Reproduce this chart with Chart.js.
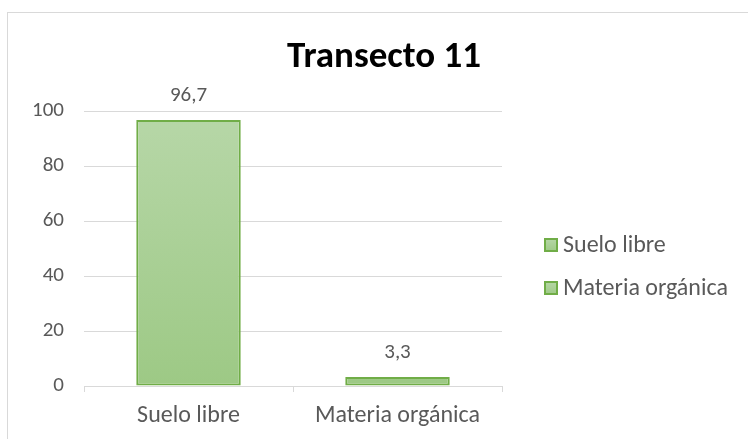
<!DOCTYPE html>
<html>
<head>
<meta charset="utf-8">
<script src="https://cdn.jsdelivr.net/npm/chart.js@4/dist/chart.umd.min.js"></script>
<style>
  html, body { margin: 0; padding: 0; overflow: hidden; background: #fff; }
  #frame {
    position: absolute; left: 7px; top: 12px;
    width: 752px; height: 440px;
    border: 1px solid #d9d9d9;
    background: #fff;
  }
  #chart { display: block; }
</style>
</head>
<body>
<div id="frame"><canvas id="chart" width="752" height="440"></canvas></div>
<script>
'use strict';

const chartTitle = 'Transecto 11';
const categories = ['Suelo libre', 'Materia orgánica'];
const percentValues = [96.7, 3.3];
const yMax = 100;
const yStep = 20;

const fontFamily = 'Carlito, Lato, sans-serif';
const textGray = '#595959';
const gridGray = '#d9d9d9';
const barBorder = '#70ad47';

let canvasElem = document.getElementById('chart');

function barGradient(ctx, top, bottom) {
  const g = ctx.createLinearGradient(0, top, 0, bottom);
  g.addColorStop(0, '#b7d7a8');
  g.addColorStop(1, '#9dc985');
  return g;
}

function formatValue(v) {
  return String(v).replace('.', ',');
}

// title centred on the whole frame, not only on the plot
const frameTitle = {
  id: 'frameTitle',
  afterDraw(chart) {
    const ctx = chart.ctx;
    ctx.save();
    ctx.font = 'bold 37px ' + fontFamily;
    ctx.fillStyle = '#000';
    ctx.textAlign = 'center';
    ctx.textBaseline = 'alphabetic';
    ctx.fillText(chartTitle, chart.width / 2, 54);
    ctx.restore();
  }
};

// value labels above each bar
const valueLabels = {
  id: 'valueLabels',
  afterDatasetsDraw(chart) {
    const ctx = chart.ctx;
    const meta = chart.getDatasetMeta(0);
    ctx.save();
    ctx.font = '21px ' + fontFamily;
    ctx.fillStyle = textGray;
    ctx.textAlign = 'center';
    ctx.textBaseline = 'middle';
    meta.data.forEach((bar, i) => {
      ctx.fillText(formatValue(chart.data.datasets[0].data[i]), bar.x, bar.y - 24);
    });
    ctx.restore();
  }
};

// legend on the right, one entry per category like the original
const sideLegend = {
  id: 'sideLegend',
  afterDraw(chart) {
    const ctx = chart.ctx;
    const area = chart.chartArea;
    const x = area.right + 42;
    ctx.save();
    ctx.font = '24px ' + fontFamily;
    ctx.textBaseline = 'middle';
    chart.data.labels.forEach((label, i) => {
      const cy = area.top + 134 + i * 43;
      ctx.fillStyle = barGradient(ctx, cy - 7, cy + 7);
      ctx.fillRect(x, cy - 7, 14, 14);
      ctx.strokeStyle = barBorder;
      ctx.lineWidth = 2;
      ctx.strokeRect(x + 1, cy - 6, 12, 12);
      ctx.fillStyle = textGray;
      ctx.fillText(label, x + 19, cy + 1);
    });
    ctx.restore();
  }
};

const data = {
  labels: categories,
  datasets: [
    {
      label: chartTitle,
      data: percentValues,
      backgroundColor: (c) => {
        const area = c.chart.chartArea;
        if (!area) return '#a9d18e';
        return barGradient(c.chart.ctx, area.top, area.bottom);
      },
      borderColor: barBorder,
      borderWidth: 2,
      borderSkipped: false,
      barPercentage: 0.5,
      categoryPercentage: 1,
    },
  ],
};

const config = {
  type: 'bar',
  data: data,
  options: {
    responsive: false,
    animation: false,
    layout: {
      padding: { left: 0, right: 258, top: 98, bottom: 7 },
    },
    plugins: {
      legend: { display: false },
      tooltip: { enabled: false },
      title: { display: false },
    },
    scales: {
      x: {
        grid: {
          offset: true,
          drawOnChartArea: false,
          drawTicks: true,
          tickLength: 6,
          color: gridGray,
        },
        border: { color: gridGray },
        ticks: {
          color: textGray,
          padding: 10,
          font: { family: fontFamily, size: 24 },
        },
        afterFit(scale) { scale.height = 60; },
      },
      y: {
        min: 0,
        max: yMax,
        grid: { color: gridGray, drawTicks: false },
        border: { display: false },
        ticks: {
          stepSize: yStep,
          color: textGray,
          padding: 20,
          font: { family: fontFamily, size: 21 },
        },
        afterFit(scale) { scale.width = 76; },
      },
    },
  },
  plugins: [valueLabels, sideLegend, frameTitle],
};

new Chart(canvasElem, config);
</script>
</body>
</html>
